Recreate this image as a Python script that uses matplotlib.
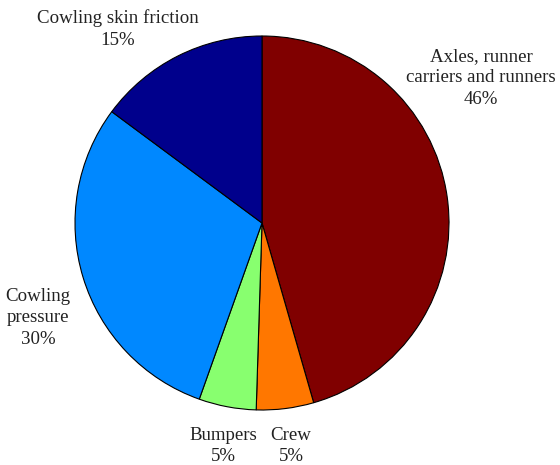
import matplotlib
matplotlib.use("Agg")
import matplotlib.pyplot as plt

# Drag breakdown by component (percent)
categories = ["Axles, runner\ncarriers and runners", "Crew", "Bumpers",
              "Cowling\npressure", "Cowling skin friction"]
values = [46, 5, 5, 30, 15]
colors = ["#800000", "#ff7700", "#88ff6f", "#0088ff", "#00008c"]

# label anchor points in pixel space (x, y from top)
label_pos = [(481, 78), (291, 446), (223, 446), (38, 318), (118, 29)]

W, H = 560, 465
fig = plt.figure(figsize=(W / 100, H / 100), dpi=100)
ax = fig.add_axes([0, 0, 1, 1])

cx, cy, r = 262, H - 223, 187
ax.pie(values, colors=colors, startangle=90, counterclock=False,
       center=(cx, cy), radius=r,
       wedgeprops=dict(edgecolor="black", linewidth=0.8))
ax.set_xlim(0, W)
ax.set_ylim(0, H)
ax.set_aspect("equal")
ax.axis("off")

for name, v, (x, y) in zip(categories, values, label_pos):
    ax.text(x, H - y, f"{name}\n{v}%", ha="center", va="center",
            multialignment="center",
            family="Liberation Serif", fontsize=13.6, color="#222222",
            linespacing=1.32)

fig.savefig("out.png", dpi=100)
